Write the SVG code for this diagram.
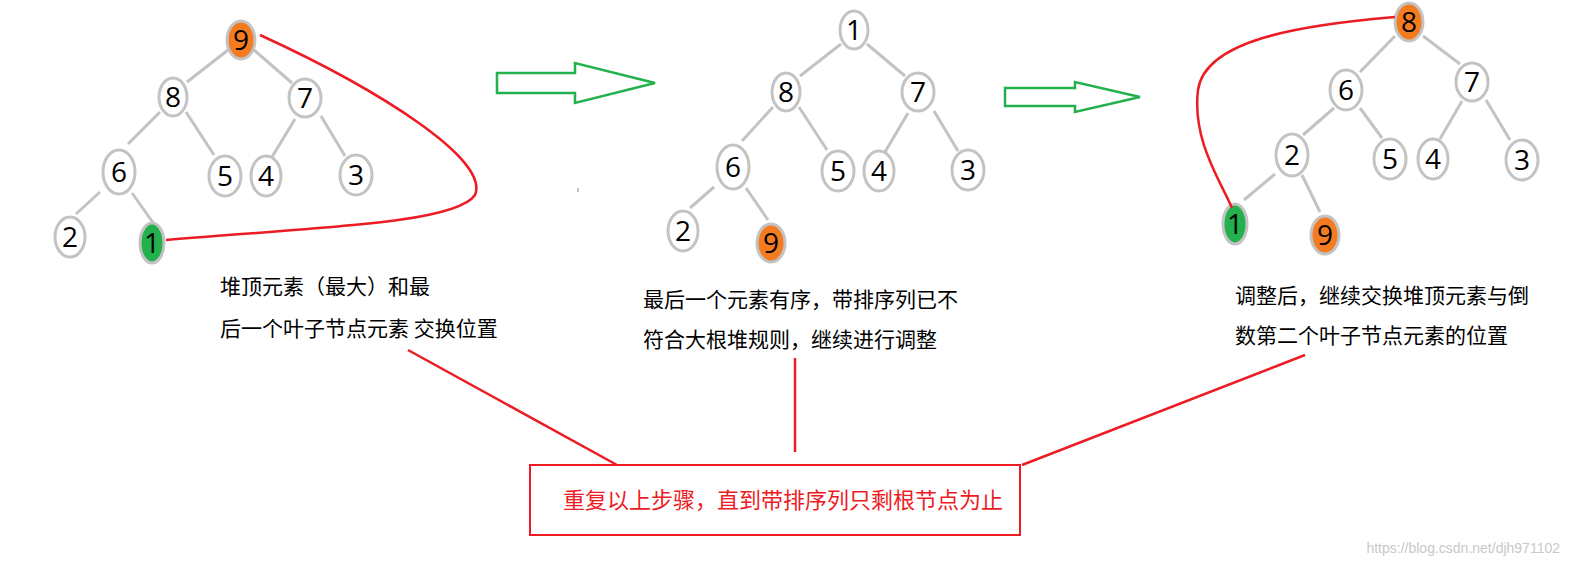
<svg xmlns="http://www.w3.org/2000/svg" width="1583" height="569" viewBox="0 0 1583 569">
<style>
.n ellipse{fill:#fff;stroke:#c3c3c3;stroke-width:3}
.n text{font-family:"Open Sans","DejaVu Sans",sans-serif;font-size:28px;text-anchor:middle;fill:#000}
.o ellipse{fill:#f47b20}
.g ellipse{fill:#22b14c}
.e line{stroke:#c3c3c3;stroke-width:3}
.r{stroke:#ed1c24;stroke-width:2.5;fill:none}
.t{font-family:"Noto Sans CJK SC","Noto Sans",sans-serif;font-size:21px;fill:#000}
.ar{fill:#fff;stroke:#22b14c;stroke-width:2.5}
</style>
<rect width="1583" height="569" fill="#fff"/>
<g id="edges" class="e">
<line x1="228" y1="50" x2="187" y2="82"/><line x1="254" y1="50" x2="292" y2="83"/>
<line x1="160" y1="112" x2="128" y2="144"/><line x1="186" y1="112" x2="214" y2="155"/>
<line x1="295" y1="119" x2="272" y2="157"/><line x1="321" y1="116" x2="345" y2="156"/>
<line x1="100" y1="192" x2="76" y2="214"/><line x1="132" y1="193" x2="154" y2="224"/>
<line x1="841" y1="44" x2="800" y2="76"/><line x1="867" y1="44" x2="905" y2="76"/>
<line x1="773" y1="107" x2="742" y2="141"/><line x1="799" y1="107" x2="827" y2="150"/>
<line x1="908" y1="113" x2="885" y2="152"/><line x1="934" y1="111" x2="958" y2="151"/>
<line x1="714" y1="187" x2="690" y2="208"/><line x1="746" y1="188" x2="768" y2="220"/>
<line x1="1395" y1="36" x2="1360" y2="72"/><line x1="1423" y1="36" x2="1460" y2="64"/>
<line x1="1334" y1="108" x2="1303" y2="135"/><line x1="1360" y1="108" x2="1382" y2="138"/>
<line x1="1462" y1="101" x2="1440" y2="139"/><line x1="1486" y1="100" x2="1510" y2="140"/>
<line x1="1275" y1="174" x2="1244" y2="200"/><line x1="1302" y1="175" x2="1320" y2="212"/>
</g>
<g id="tree1">
<g class="n o"><ellipse cx="241" cy="40" rx="14" ry="19"/><text x="241" y="50">9</text></g>
<g class="n"><ellipse cx="173" cy="97" rx="14" ry="19"/><text x="173" y="107">8</text></g>
<g class="n"><ellipse cx="305" cy="98" rx="16" ry="19"/><text x="305" y="108">7</text></g>
<g class="n"><ellipse cx="119" cy="172" rx="16" ry="22"/><text x="119" y="182">6</text></g>
<g class="n"><ellipse cx="225" cy="176" rx="16" ry="20"/><text x="225" y="186">5</text></g>
<g class="n"><ellipse cx="266" cy="176" rx="15" ry="20"/><text x="266" y="186">4</text></g>
<g class="n"><ellipse cx="356" cy="175" rx="16" ry="20"/><text x="356" y="185">3</text></g>
<g class="n"><ellipse cx="70" cy="237" rx="15" ry="20"/><text x="70" y="247">2</text></g>
<g class="n g"><ellipse cx="152" cy="243" rx="12" ry="20"/><text x="152" y="253">1</text></g>
</g>
<g id="tree2">
<g class="n"><ellipse cx="854" cy="30" rx="14" ry="19"/><text x="854" y="40">1</text></g>
<g class="n"><ellipse cx="786" cy="92" rx="14" ry="19"/><text x="786" y="102">8</text></g>
<g class="n"><ellipse cx="918" cy="92" rx="16" ry="19"/><text x="918" y="102">7</text></g>
<g class="n"><ellipse cx="733" cy="167" rx="16" ry="22"/><text x="733" y="177">6</text></g>
<g class="n"><ellipse cx="838" cy="171" rx="16" ry="20"/><text x="838" y="181">5</text></g>
<g class="n"><ellipse cx="879" cy="171" rx="15" ry="20"/><text x="879" y="181">4</text></g>
<g class="n"><ellipse cx="968" cy="170" rx="16" ry="20"/><text x="968" y="180">3</text></g>
<g class="n"><ellipse cx="683" cy="231" rx="15" ry="20"/><text x="683" y="241">2</text></g>
<g class="n o"><ellipse cx="771" cy="243" rx="14" ry="19"/><text x="771" y="253">9</text></g>
</g>
<g id="tree3">
<g class="n o"><ellipse cx="1409" cy="22" rx="14" ry="19"/><text x="1409" y="32">8</text></g>
<g class="n"><ellipse cx="1346" cy="90" rx="16" ry="20"/><text x="1346" y="100">6</text></g>
<g class="n"><ellipse cx="1472" cy="82" rx="16" ry="19"/><text x="1472" y="92">7</text></g>
<g class="n"><ellipse cx="1292" cy="155" rx="16" ry="21"/><text x="1292" y="165">2</text></g>
<g class="n"><ellipse cx="1390" cy="159" rx="16" ry="20"/><text x="1390" y="169">5</text></g>
<g class="n"><ellipse cx="1433" cy="159" rx="15" ry="20"/><text x="1433" y="169">4</text></g>
<g class="n"><ellipse cx="1522" cy="160" rx="16" ry="20"/><text x="1522" y="170">3</text></g>
<g class="n g"><ellipse cx="1235" cy="224" rx="12" ry="20"/><text x="1235" y="234">1</text></g>
<g class="n o"><ellipse cx="1325" cy="235" rx="14" ry="19"/><text x="1325" y="245">9</text></g>
</g>
<g id="arrows">
<polygon class="ar" points="497,73 575,73 575,63 655,83 575,103 575,93 497,93"/>
<polygon class="ar" points="1005,88 1075,88 1075,82 1140,97 1075,112 1075,106 1005,106"/>
</g>
<g id="connectors">
<path class="r" d="M260,35 C380,90 490,160 475,195 C455,225 300,228 166,240"/>
<path class="r" d="M1395,17 C1300,25 1205,40 1198,90 C1192,140 1220,180 1232,208"/>
<line class="r" x1="408" y1="350" x2="617" y2="465"/>
<line class="r" x1="795" y1="358" x2="795" y2="452"/>
<line class="r" x1="1305" y1="355" x2="1022" y2="465"/>
</g>
<rect x="577" y="188" width="2" height="4" fill="#c3c3c3"/>
<g id="labels">
<text class="t" x="220" y="294">堆顶元素（最大）和最</text>
<text class="t" x="220" y="336">后一个叶子节点元素 交换位置</text>
<text class="t" x="643" y="307">最后一个元素有序，带排序列已不</text>
<text class="t" x="643" y="347">符合大根堆规则，继续进行调整</text>
<text class="t" x="1235" y="303">调整后，继续交换堆顶元素与倒</text>
<text class="t" x="1235" y="343">数第二个叶子节点元素的位置</text>
</g>
<g id="box">
<rect x="530" y="465" width="490" height="70" fill="#fff" stroke="#ed1c24" stroke-width="2"/>
<text x="783" y="508" text-anchor="middle" style="font-family:'Noto Sans CJK SC',sans-serif;font-size:22px;fill:#ed1c24">重复以上步骤，直到带排序列只剩根节点为止</text>
</g>
<text x="1560" y="553" text-anchor="end" style="font-family:'Liberation Sans',sans-serif;font-size:14px;fill:#c8c8c8">https://blog.csdn.net/djh971102</text>
</svg>
